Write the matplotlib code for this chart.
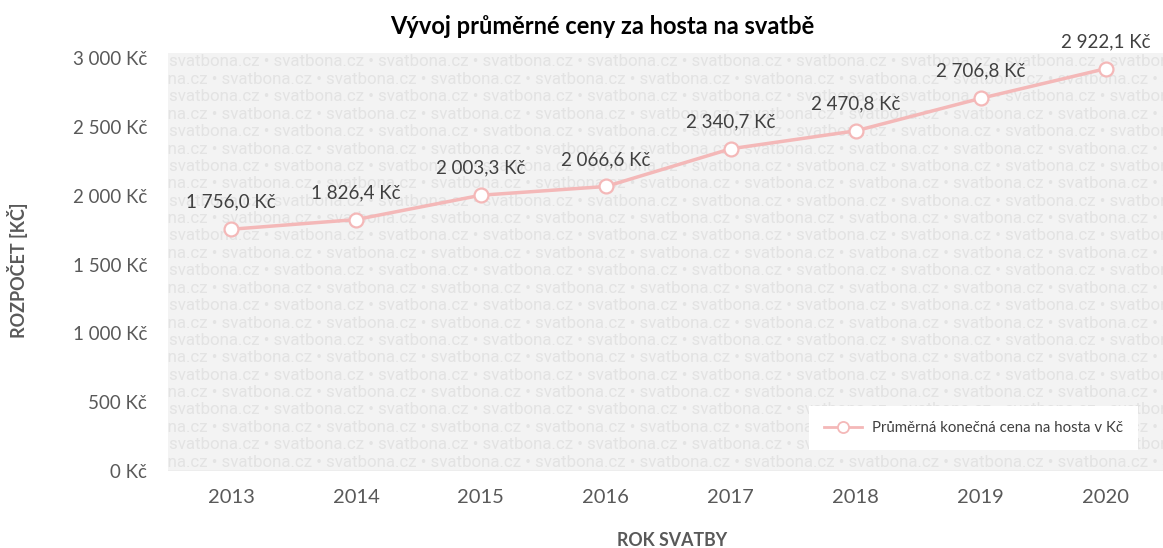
import matplotlib
matplotlib.use("Agg")
import matplotlib.pyplot as plt
from matplotlib.lines import Line2D

years = ["2013", "2014", "2015", "2016", "2017", "2018", "2019", "2020"]
values = [1756.0, 1826.4, 2003.3, 2066.6, 2340.7, 2470.8, 2706.8, 2922.1]
yticks = [0, 500, 1000, 1500, 2000, 2500, 3000]
title = "Vývoj průměrné ceny za hosta na svatbě"
xlabel = "ROK SVATBY"
ylabel = "ROZPOČET [KČ]"
series_name = "Průměrná konečná cena na hosta v Kč"
watermark = "svatbona.cz \u2022 "

FONT = ["Lato", "DejaVu Sans"]
plt.rcParams['font.family'] = FONT

def fmt(v, dec=1):
    s = f"{v:,.{dec}f}".replace(",", " ").replace(".", ",")
    return s + " Kč"

W, H = 1163, 548
fig = plt.figure(figsize=(W / 100, H / 100), dpi=100)

# plot area in pixels
left, right, top, bottom = 168, 1163, 58, 471
wm_top = 53

# watermark background
axbg = fig.add_axes([left / W, (H - bottom) / H, (right - left) / W, (bottom - wm_top) / H])
axbg.set_xlim(0, right - left)
axbg.set_ylim(bottom - wm_top, 0)
axbg.axis("off")
axbg.add_patch(plt.Rectangle((0, 0), right - left, bottom - wm_top, color="#f3f3f3", zorder=0))
row_h = 17.4
n_rows = 24
for i in range(n_rows):
    y = 9 + i * row_h
    x0 = 1 if i % 2 == 0 else -51
    axbg.text(x0, y, watermark * 11, fontsize=12.2, family=["Roboto", "DejaVu Sans"],
              color="#e3e3e3", va="center", ha="left", clip_on=True, zorder=1)

ax = fig.add_axes([left / W, (H - bottom) / H, (right - left) / W, (bottom - top) / H])
ax.patch.set_alpha(0)
x = list(range(len(years)))
color = "#f4b8b8"
ax.plot(x, values, color=color, lw=2.5, marker="o", ms=10, mfc="white", mec=color, mew=1.6,
        zorder=5, clip_on=False)
for xi, v in zip(x, values):
    ax.annotate(fmt(v), (xi, v), xytext=(0, 19.5), textcoords="offset points",
                ha="center", va="center", fontsize=13.5, color="#404040", zorder=6)

ax.set_xlim(-0.505, 7.46)
ax.set_ylim(0, 3000)
ax.set_xticks(x)
ax.set_xticklabels(years)
ax.set_yticks(yticks)
ax.set_yticklabels([fmt(t, 0) for t in yticks])
ax.tick_params(axis="both", length=0, labelcolor="#595959")
ax.tick_params(axis="y", pad=15, labelsize=13.5)
ax.tick_params(axis="x", pad=13, labelsize=14.5)
for s in ax.spines.values():
    s.set_visible(False)
ax.axhline(0, color="#d9d9d9", lw=1, zorder=2)

fig.text(602 / W, 1 - 26 / H, title, ha="center", va="center", fontsize=17,
         fontweight="bold", color="black")
fig.text(672 / W, 1 - 540 / H, xlabel, ha="center", va="center", fontsize=12.8,
         fontweight="bold", color="#595959")
fig.text(18 / W, 1 - 270 / H, ylabel, ha="center", va="center", fontsize=13,
         fontweight="bold", color="#595959", rotation=90)

handle = Line2D([], [], color=color, lw=2, marker="o", ms=8, mfc="white", mec=color, mew=1.3)
leg = ax.legend([handle], [series_name], loc="lower right",
                bbox_to_anchor=((1138 - left) / (right - left), (bottom - 450) / (bottom - top)),
                borderaxespad=0, frameon=True, fancybox=False, framealpha=1,
                edgecolor="white", facecolor="white", fontsize=10.8, handlelength=2.5,
                handletextpad=0.7, borderpad=1.0, labelcolor="#404040")
leg.get_frame().set_linewidth(0)

fig.savefig("out.png", dpi=100)
